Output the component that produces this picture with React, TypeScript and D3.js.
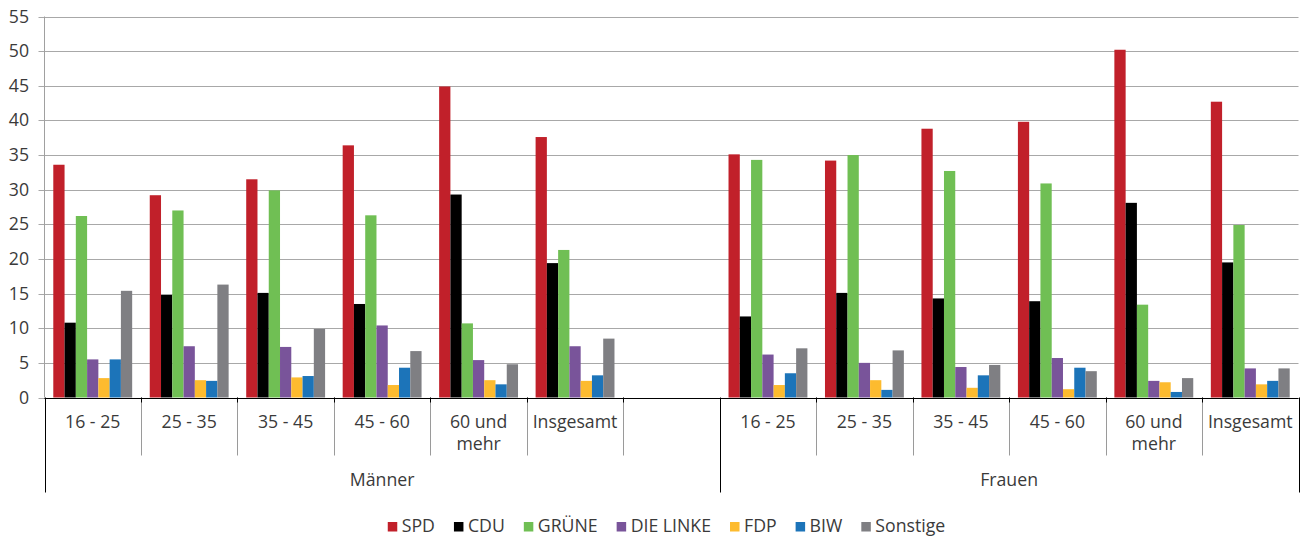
import React, { useEffect, useRef } from "react";
import { select, scaleBand, scaleLinear } from "d3";

const parties = ["SPD", "CDU", "GRÜNE", "DIE LINKE", "FDP", "BIW", "Sonstige"];
const partyColors = ["#c1202a", "#000000", "#70bf54", "#79549a", "#fdbb2f", "#1c74b9", "#7f7f83"];

const groups = ["Männer", "Frauen"];
const ageGroups = ["16 - 25", "25 - 35", "35 - 45", "45 - 60", "60 und mehr", "Insgesamt"];
const ageLabels = [["16 - 25"], ["25 - 35"], ["35 - 45"], ["45 - 60"], ["60 und", "mehr"], ["Insgesamt"]];
const yTicks = [0, 5, 10, 15, 20, 25, 30, 35, 40, 45, 50, 55];

// values: Männer (6 age groups), then Frauen (6 age groups)
const spd = [33.6, 29.2, 31.5, 36.4, 44.9, 37.6, 35.1, 34.2, 38.8, 39.8, 50.2, 42.7];
const cdu = [10.8, 14.8, 15.1, 13.5, 29.3, 19.4, 11.7, 15.1, 14.3, 13.9, 28.1, 19.5];
const gruene = [26.2, 27.0, 29.9, 26.3, 10.7, 21.3, 34.3, 35.0, 32.7, 30.9, 13.4, 24.9];
const linke = [5.5, 7.4, 7.3, 10.4, 5.4, 7.4, 6.2, 5.0, 4.4, 5.7, 2.4, 4.2];
const fdp = [2.8, 2.5, 2.9, 1.8, 2.5, 2.4, 1.8, 2.5, 1.4, 1.2, 2.2, 1.9];
const biw = [5.5, 2.4, 3.1, 4.3, 1.9, 3.2, 3.5, 1.1, 3.2, 4.3, 0.8, 2.4];
const sonstige = [15.4, 16.3, 9.9, 6.7, 4.8, 8.5, 7.1, 6.8, 4.7, 3.8, 2.8, 4.2];

const seriesValues = [spd, cdu, gruene, linke, fdp, biw, sonstige];

const width = 1302;
const height = 539;
const font = "'Open Sans', 'Noto Sans', sans-serif";
const fontSize = "17.7px";
const textColor = "#3a3a3a";

const App = () => {
  const ref = useRef<SVGSVGElement>(null);

  useEffect(() => {
    const svg = select(ref.current);
    svg.selectAll("*").remove();
    const margin = { top: 16.5, right: 3.5, bottom: 141.5, left: 44.5 };

    // slots: 6 Männer + empty slot, 6 Frauen
    const slots: string[] = [];
    ageGroups.forEach((a) => slots.push(groups[0] + "|" + a));
    slots.push("leer");
    ageGroups.forEach((a) => slots.push(groups[1] + "|" + a));

    const x0 = scaleBand().domain(slots).range([margin.left, width - margin.right]);
    const x1 = scaleBand().domain(parties).range([0, x0.bandwidth()]).paddingOuter(0.78);
    const y = scaleLinear().domain([0, 55]).range([height - margin.bottom, margin.top]);
    const y0 = y(0);

    // gridlines
    svg
      .append("g")
      .selectAll("line")
      .data(yTicks)
      .enter()
      .append("line")
      .attr("x1", margin.left - 6)
      .attr("x2", width - margin.right)
      .attr("y1", (d) => Math.round(y(d)) + 0.5)
      .attr("y2", (d) => Math.round(y(d)) + 0.5)
      .attr("stroke", "#a8a8a8")
      .attr("stroke-width", 1);

    svg
      .append("g")
      .selectAll("text")
      .data(yTicks)
      .enter()
      .append("text")
      .attr("x", 29)
      .attr("y", (d) => y(d) + 6)
      .attr("text-anchor", "end")
      .style("font-family", font)
      .style("font-size", fontSize)
      .style("fill", textColor)
      .text((d) => d);

    svg
      .append("line")
      .attr("x1", margin.left)
      .attr("x2", margin.left)
      .attr("y1", margin.top)
      .attr("y2", y0)
      .attr("stroke", "#a0a0a0");

    // bars
    const bars: { party: string; slot: string; value: number; color: string }[] = [];
    parties.forEach((p, i) => {
      seriesValues[i].forEach((v, j) => {
        const g = groups[Math.floor(j / 6)];
        bars.push({ party: p, slot: g + "|" + ageGroups[j % 6], value: v, color: partyColors[i] });
      });
    });

    svg
      .append("g")
      .selectAll("rect")
      .data(bars)
      .enter()
      .append("rect")
      .attr("x", (d) => (x0(d.slot) as number) + (x1(d.party) as number))
      .attr("y", (d) => y(d.value))
      .attr("width", x1.bandwidth())
      .attr("height", (d) => y0 - y(d.value))
      .attr("fill", (d) => d.color);

    // x axis
    svg
      .append("line")
      .attr("x1", margin.left)
      .attr("x2", width - margin.right)
      .attr("y1", Math.round(y0) + 0.5)
      .attr("y2", Math.round(y0) + 0.5)
      .attr("stroke", "#000");

    const minor = slots.filter((s, i) => i > 0 && i !== 7);
    const axis = svg.append("g");
    minor.forEach((s) => {
      const xx = Math.round(x0(s) as number) + 0.5;
      axis
        .append("line")
        .attr("x1", xx)
        .attr("x2", xx)
        .attr("y1", y0)
        .attr("y2", y0 + 58)
        .attr("stroke", "#9a9a9a");
      axis
        .append("line")
        .attr("x1", xx)
        .attr("x2", xx)
        .attr("y1", y0)
        .attr("y2", y0 + 5)
        .attr("stroke", "#000");
    });
    const major = [x0(slots[0]) as number, x0(slots[7]) as number, width - margin.right];
    major.forEach((m) => {
      const xx = Math.round(m) + 0.5;
      axis
        .append("line")
        .attr("x1", xx)
        .attr("x2", xx)
        .attr("y1", y0)
        .attr("y2", y0 + 95)
        .attr("stroke", "#000");
    });

    // category labels
    groups.forEach((g) => {
      ageGroups.forEach((a, i) => {
        const cx = (x0(g + "|" + a) as number) + x0.bandwidth() / 2;
        const t = axis
          .append("text")
          .attr("text-anchor", "middle")
          .style("font-family", font)
          .style("font-size", fontSize)
          .style("fill", textColor);
        ageLabels[i].forEach((line, k) => {
          t.append("tspan")
            .attr("x", cx)
            .attr("y", y0 + 30 + k * 22)
            .text(line);
        });
      });
    });

    // group labels
    const groupStart = [x0(slots[0]) as number, x0(slots[7]) as number];
    const groupEnd = [x0(slots[7]) as number, width - margin.right];
    groups.forEach((g, i) => {
      axis
        .append("text")
        .attr("x", (groupStart[i] + groupEnd[i]) / 2)
        .attr("y", y0 + 88)
        .attr("text-anchor", "middle")
        .style("font-family", font)
        .style("font-size", fontSize)
        .style("fill", textColor)
        .text(g);
    });

    // legend
    const legend = svg.append("g");
    let lx = 0;
    parties.forEach((p, i) => {
      const item = legend.append("g").attr("transform", `translate(${lx},0)`);
      item
        .append("rect")
        .attr("x", 0)
        .attr("y", -10)
        .attr("width", 9.5)
        .attr("height", 9.5)
        .attr("fill", partyColors[i]);
      const t = item
        .append("text")
        .attr("x", 14)
        .attr("y", 0)
        .style("font-family", font)
        .style("font-size", fontSize)
        .style("fill", textColor)
        .text(p);
      const tw = (t.node() as SVGTextElement).getComputedTextLength();
      lx += 14 + tw + 19;
    });
    const total = lx - 19;
    legend.attr("transform", `translate(${666.5 - total / 2},532)`);
  }, []);

  return (
    <div style={{ position: "absolute", left: 0, top: 0 }}>
      <svg ref={ref} width={width} height={height} style={{ display: "block" }}></svg>
    </div>
  );
};

export default App;
